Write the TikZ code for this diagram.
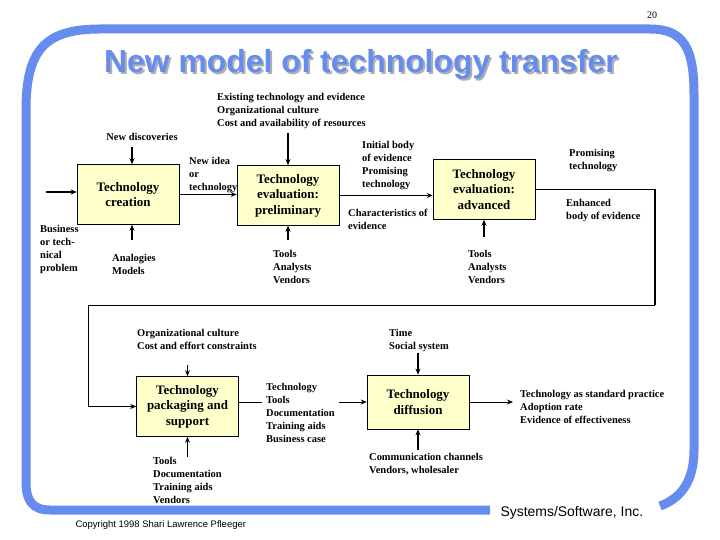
\documentclass[tikz,border=0pt]{standalone}
\usepackage{fontspec}
\setmainfont{Liberation Serif}
\setsansfont{Liberation Sans}
\usetikzlibrary{arrows.meta, positioning}
\definecolor{frameblue}{RGB}{102, 140, 240}
\definecolor{boxyellow}{RGB}{255, 255, 204}
\definecolor{shadowgray}{RGB}{175, 175, 175}

\tikzset{
  stagebox/.style={draw=black, line width=0.6bp, fill=boxyellow, minimum width=102bp, minimum height=60bp, align=center, inner sep=2bp, font=\bfseries\fontsize{13}{15.5}\selectfont},
  note/.style={anchor=north west, inner sep=0pt, align=left, font=\bfseries\fontsize{10.5}{13}\selectfont},
  inarrow/.style={line width=1.8bp, -{Stealth[length=6bp, width=5bp]}},
  flowarrow/.style={line width=1.3bp, -{Stealth[length=6bp, width=5bp]}},
  thinarrow/.style={line width=0.8bp, -{Stealth[length=6bp, width=5bp]}},
}

\begin{document}
\begin{tikzpicture}[x=1bp, y=-1bp]
                \useasboundingbox (0,0) rectangle (720,540);

                % Frame and title
                \draw[frameblue, line width=9bp] (490,510) -- (50,510) .. controls (32,510) and (26,500) .. (26,482) -- (26,110) .. controls (26,50) and (45,29) .. (100,29) -- (650,29) .. controls (685,29) and (694,50) .. (694,95) -- (694,450) .. controls (694,480) and (682,498) .. (660,506);
                \node[font=\fontsize{10}{12}\selectfont] (pagenum) at (652,15) {20};
                \node[anchor=base, shadowgray, font=\sffamily\bfseries\fontsize{32}{36}\selectfont] (titleshadow) at (363,75) {New model of technology transfer};
                \node[anchor=base, frameblue, font=\sffamily\bfseries\fontsize{32}{36}\selectfont] (title) at (361,73) {New model of technology transfer};

                % Stages
                \node[stagebox] (creation) at (128,194.5) {Technology\\creation};
                \node[stagebox] (prelim) at (288,195.5) {Technology\\evaluation:\\preliminary};
                \node[stagebox] (advanced) at (484,189.5) {Technology\\evaluation:\\advanced};
                \node[stagebox] (packaging) at (187.5,406.5) {Technology\\packaging and\\support};
                \node[stagebox, minimum height=54bp] (diffusion) at (418,402) {Technology\\diffusion};

                % Technology creation
                \node[note, anchor=center] (discoveries) at (142,137) {New discoveries};
                \node[note] (problem) at (40,225) {Business\\or tech-\\nical\\problem};
                \node[note] (analogies) at (112,254) {Analogies\\Models};
                \coordinate (discin) at (132,147);
                \coordinate (analogin) at (132,240);
                \coordinate (problemin) at (46,192);
                \draw[inarrow] (discin) -- (discin |- creation.north);
                \draw[inarrow] (analogin) -- (analogin |- creation.south);
                \draw[flowarrow] (problemin) -- (problemin -| creation.west);

                % Preliminary evaluation
                \node[note] (existing) at (217,93) {Existing technology and evidence\\Organizational culture\\Cost and availability of resources};
                \node[note] (newidea) at (189,157) {New idea\\or\\technology};
                \node[note] (prelimtools) at (273,250) {Tools\\Analysts\\Vendors};
                \draw[inarrow] (prelim.north) ++(0,-32) -- (prelim.north);
                \draw[inarrow] (prelim.south) ++(0,14) -- (prelim.south);
                \draw[flowarrow] (creation.east) -- (creation.east -| prelim.west);

                % Advanced evaluation
                \node[note] (initial) at (362,141) {Initial body\\of evidence\\Promising\\technology};
                \node[note] (character) at (348,209) {Characteristics of\\evidence};
                \node[note] (advtools) at (468,250) {Tools\\Analysts\\Vendors};
                \node[note] (promising) at (569,149) {Promising\\technology};
                \node[note] (enhanced) at (566,199) {Enhanced\\body of evidence};
                \draw[inarrow] (advanced.south) ++(0,17) -- (advanced.south);
                \draw[flowarrow] (prelim.east) -- (prelim.east -| advanced.west);

                % Loop back to packaging
                \coordinate (loopR) at (655,305);
                \coordinate (loopL) at (88,305);
                \draw[line width=1.2bp] (advanced.east) -| (loopR);
                \draw[thinarrow] (loopR) -- (loopL) |- (packaging.west);

                % Packaging and support
                \node[note] (orgcost) at (137,329) {Organizational culture\\Cost and effort constraints};
                \node[note] (packtools) at (153,457) {Tools\\Documentation\\Training aids\\Vendors};
                \draw[inarrow] (packaging.north) ++(0,-11) -- (packaging.north);
                \draw[inarrow] (packaging.south) ++(0,20) -- (packaging.south);
                \draw[thinarrow] (diffusion.west -| packaging.east) -- (diffusion.west);
                \node[note, fill=white, inner sep=4bp] (packout) at (262,379) {Technology\\Tools\\Documentation\\Training aids\\Business case};

                % Diffusion
                \node[note] (timesocial) at (389,329) {Time\\Social system};
                \node[note] (channels) at (369,453) {Communication channels\\Vendors, wholesaler};
                \node[note] (standard) at (520,390) {Technology as standard practice\\Adoption rate\\Evidence of effectiveness};
                \coordinate (diffout) at (513,402);
                \draw[inarrow] (diffusion.north) ++(0,-22) -- (diffusion.north);
                \draw[inarrow] (diffusion.south) ++(0,21) -- (diffusion.south);
                \draw[thinarrow] (diffusion.east) -- (diffout);

                % Footer
                \node[anchor=west, font=\sffamily\fontsize{9.5}{11}\selectfont] (copyright) at (72,525) {Copyright 1998 Shari Lawrence Pfleeger};
                \node[anchor=west, font=\sffamily\fontsize{14}{16}\selectfont] (company) at (497,513) {Systems/Software, Inc.};
            \end{tikzpicture}
\end{document}
